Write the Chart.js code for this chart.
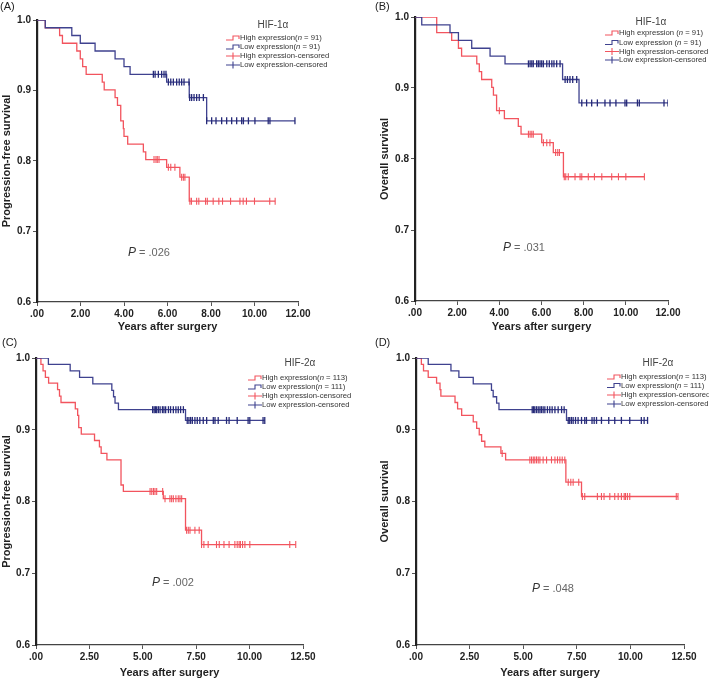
<!DOCTYPE html>
<html lang="en">
<head>
<meta charset="UTF-8" />
<title>HIF-1α / HIF-2α survival</title>
<script src="https://cdn.jsdelivr.net/npm/chart.js@4"></script>
<style>
  body { margin: 0; background: #fff; }
  #wrap { position: relative; width: 709px; height: 681px; overflow: hidden; background: #fff; }
  #wrap canvas { position: absolute; }
</style>
</head>
<body>
<div id="wrap">
  <canvas id="chartA"></canvas>
  <canvas id="chartB"></canvas>
  <canvas id="chartC"></canvas>
  <canvas id="chartD"></canvas>
</div>

<script>
// ---- (A) progression-free survival, HIF-1a ----
const aHighT = [0.38, 1.04, 1.17, 1.83, 1.99, 2.10, 2.26, 3.00, 3.09, 3.59, 3.70, 3.85, 3.97, 4.00, 4.17, 4.89, 5.00, 5.96, 6.57, 7.00];
const aHighS = [0.989, 0.978, 0.967, 0.956, 0.945, 0.934, 0.923, 0.912, 0.901, 0.890, 0.879, 0.857, 0.846, 0.835, 0.824, 0.813, 0.802, 0.791, 0.777, 0.743];
const aHighCens = [5.38, 5.47, 5.53, 5.61, 6.04, 6.15, 6.34, 6.65, 6.73, 6.80, 7.03, 7.10, 7.34, 7.44, 7.75, 7.83, 8.10, 8.36, 8.53, 8.90, 9.33, 9.48, 9.63, 10.00, 10.70, 10.95];
const aLowT = [0.38, 1.60, 1.99, 2.67, 3.59, 4.00, 4.28, 5.96, 7.00, 7.80];
const aLowS = [0.989, 0.978, 0.967, 0.956, 0.945, 0.934, 0.923, 0.912, 0.890, 0.857];
const aLowCens = [5.35, 5.43, 5.58, 5.73, 5.84, 5.93, 6.04, 6.15, 6.27, 6.42, 6.54, 6.65, 6.76, 6.99, 7.02, 7.11, 7.22, 7.34, 7.46, 7.65,
  7.80, 8.03, 8.23, 8.49, 8.72, 8.95, 9.18, 9.41, 9.49, 9.72, 10.02, 10.63, 10.71, 11.86];

// ---- (B) overall survival, HIF-1a ----
const bHighT = [1.03, 1.74, 2.06, 2.21, 2.93, 3.05, 3.16, 3.64, 3.72, 3.87, 4.24, 4.90, 5.03, 6.01, 6.56, 7.04];
const bHighS = [0.978, 0.967, 0.956, 0.945, 0.934, 0.923, 0.912, 0.901, 0.890, 0.868, 0.857, 0.846, 0.835, 0.823, 0.809, 0.775];
const bHighCens = [4.00, 5.38, 5.46, 5.54, 5.61, 6.09, 6.25, 6.40, 6.67, 6.77, 6.85, 7.08, 7.15, 7.27, 7.59, 7.83, 7.91, 8.22, 8.51, 8.86, 9.33, 9.65, 10.00, 10.88];
const bLowT = [0.32, 1.66, 2.06, 2.69, 3.56, 4.27, 7.00, 7.78];
const bLowS = [0.989, 0.978, 0.967, 0.956, 0.945, 0.934, 0.912, 0.879];
const bLowCens = [5.38, 5.46, 5.54, 5.61, 5.77, 5.85, 5.93, 6.01, 6.09, 6.25, 6.37, 6.49, 6.59, 6.72, 6.88, 7.12, 7.23, 7.35, 7.48, 7.67,
  7.91, 8.14, 8.38, 8.65, 9.01, 9.25, 9.53, 9.96, 10.04, 10.55, 10.64, 11.81, 12.00];

// ---- (C) progression-free survival, HIF-2a ----
const cHighT = [0.23, 0.33, 0.44, 0.59, 1.01, 1.10, 1.17, 1.84, 1.95, 2.00, 2.12, 2.74, 2.97, 3.05, 3.32, 3.98, 4.09, 5.96, 7.00, 7.75];
const cHighS = [0.991, 0.982, 0.973, 0.965, 0.956, 0.947, 0.938, 0.929, 0.920, 0.903, 0.894, 0.885, 0.876, 0.867, 0.858, 0.823, 0.814, 0.804, 0.760, 0.740];
const cHighCens = [5.34, 5.42, 5.50, 5.57, 5.65, 5.93, 6.04, 6.27, 6.35, 6.43, 6.55, 6.66, 6.74, 6.82, 7.05, 7.13, 7.21, 7.44, 7.64,
  7.75, 7.86, 8.06, 8.45, 8.58, 8.80, 9.04, 9.31, 9.42, 9.51, 9.57, 9.67, 9.78, 10.01, 11.88, 12.16];
const cLowT = [0.58, 1.60, 2.04, 2.66, 3.55, 3.63, 3.70, 3.86, 7.00];
const cLowS = [0.991, 0.982, 0.973, 0.964, 0.955, 0.946, 0.937, 0.928, 0.913];
const cLowCens = [5.46, 5.53, 5.59, 5.65, 5.73, 5.81, 5.92, 5.99, 6.07, 6.20, 6.30, 6.43, 6.55, 6.66, 6.77, 6.90,
  7.08, 7.16, 7.24, 7.32, 7.44, 7.55, 7.67, 7.83, 7.99, 8.30, 8.38, 8.53, 8.92, 9.04, 9.42, 9.93, 10.01, 10.63, 10.71];

// ---- (D) overall survival, HIF-2a ----
const dHighT = [0.25, 0.35, 0.57, 0.96, 1.12, 1.16, 1.82, 1.94, 2.13, 2.67, 2.83, 2.95, 3.06, 3.21, 3.96, 4.18, 6.99, 7.72];
const dHighS = [0.991, 0.982, 0.973, 0.965, 0.956, 0.947, 0.938, 0.929, 0.920, 0.911, 0.902, 0.893, 0.884, 0.876, 0.867, 0.858, 0.827, 0.807];
const dHighCens = [4.02, 5.31, 5.39, 5.47, 5.54, 5.62, 5.70, 5.78, 5.93, 6.09, 6.32, 6.48, 6.60, 6.71, 6.82, 6.94, 7.10, 7.22, 7.33, 7.59,
  7.76, 7.87, 8.46, 8.65, 8.77, 9.04, 9.27, 9.43, 9.58, 9.71, 9.77, 9.86, 9.97, 12.14, 12.22];
const dLowT = [0.57, 1.63, 2.00, 2.67, 3.52, 3.60, 3.76, 3.87, 7.02];
const dLowS = [0.991, 0.982, 0.973, 0.964, 0.955, 0.946, 0.937, 0.928, 0.913];
const dLowCens = [5.42, 5.48, 5.54, 5.62, 5.70, 5.78, 5.85, 5.93, 6.01, 6.13, 6.24, 6.35, 6.48, 6.63, 6.79, 6.91,
  7.10, 7.17, 7.25, 7.33, 7.44, 7.56, 7.72, 7.87, 7.95, 8.21, 8.31, 8.42, 8.65, 8.99, 9.27, 9.58, 9.97, 10.51, 10.64, 10.80];

// ---- text ----
const yTicks1 = [0.6, 0.7, 0.8, 0.9, 1.0];
const legend1 = ['High expression(*n* = 91)', 'Low expression(*n* = 91)', 'High expression-censored', 'Low expression-censored'];
const legend1b = ['High expression (*n* = 91)', 'Low expression (*n* = 91)', 'High expression-censored', 'Low expression-censored'];
const legend2 = ['High expression(*n* = 113)', 'Low expression(*n* = 111)', 'High expression-censored', 'Low expression-censored'];
const pValues = ['.026', '.031', '.002', '.048'];

const RED = '#f2545e';
const BLUE = '#3f428f';
const BLUE_DARK = '#262a78';
const FONT = '"Liberation Sans", Arial, sans-serif';

function stepPoints(times, surv, cens) {
  const pts = [{x: 0, y: 1}];
  times.forEach((t, i) => pts.push({x: t, y: surv[i]}));
  const end = Math.max(times[times.length - 1], ...cens);
  pts.push({x: end, y: surv[surv.length - 1]});
  return pts;
}

// censored marks sit on the curve at their time
function survivalAt(t, times, surv) {
  let s = 1;
  times.forEach((e, i) => { if (e <= t) s = surv[i]; });
  return s;
}
function censPoints(cens, times, surv) {
  return cens.map(t => ({x: t, y: survivalAt(t, times, surv)}));
}

function drawRuns(ctx, str, x, y, size, color) {
  // *...* = italic
  str.split('*').forEach((part, i) => {
    if (!part) return;
    ctx.font = (i % 2 ? 'italic ' : '') + size + 'px ' + FONT;
    ctx.fillStyle = color;
    ctx.fillText(part, x, y);
    x += ctx.measureText(part).width;
  });
}

const panelText = {
  id: 'panelText',
  afterDraw(chart, args, o) {
    const ctx = chart.ctx;
    ctx.save();
    ctx.textBaseline = 'middle';
    // panel letter
    ctx.textAlign = 'left';
    ctx.font = '11px ' + FONT;
    ctx.fillStyle = '#222';
    ctx.fillText(o.letter[0], o.letter[1], o.letter[2]);
    // legend
    const lg = o.legend;
    ctx.textAlign = 'center';
    ctx.font = '10px ' + FONT;
    ctx.fillStyle = '#444';
    ctx.fillText(lg.title, lg.titleX, lg.titleY);
    ctx.textAlign = 'left';
    lg.labels.forEach((lab, i) => {
      const y = lg.ys[i];
      const x0 = lg.iconX;
      ctx.lineWidth = 1.1;
      ctx.strokeStyle = i % 2 ? BLUE : RED;
      ctx.beginPath();
      if (i < 2) {
        ctx.moveTo(x0, y + 2); ctx.lineTo(x0 + 7, y + 2); ctx.lineTo(x0 + 7, y - 2);
        ctx.lineTo(x0 + 13, y - 2); ctx.lineTo(x0 + 13, y + 1);
      } else {
        ctx.moveTo(x0, y); ctx.lineTo(x0 + 14, y);
        ctx.moveTo(x0 + 7, y - 3.5); ctx.lineTo(x0 + 7, y + 3.5);
      }
      ctx.stroke();
      drawRuns(ctx, lab, x0 + 14, y, 7.7, '#333');
    });
    // p value
    drawRuns(ctx, '*P*', o.p[1], o.p[2], 12, '#333');
    ctx.font = 'italic 12px ' + FONT;
    const w = ctx.measureText('P').width;
    drawRuns(ctx, ' = ' + o.p[0], o.p[1] + w, o.p[2], 11, '#666');
    ctx.restore();
  }
};

function makePanel(id, p) {
  const canvas = document.getElementById(id);
  canvas.width = p.box.w;
  canvas.height = p.box.h;
  canvas.style.left = p.box.x + 'px';
  canvas.style.top = p.box.y + 'px';
  const L = p.area.l - p.box.x, R = p.area.r - p.box.x;
  const T = p.area.t - p.box.y, B = p.area.b - p.box.y;
  const half = 6.6;
  const yLeft = p.yTitleX - p.box.x - half;
  const yW = L - yLeft;
  const xH = (p.yTitleY - p.box.y + half) - B;
  const rel = (pt) => [pt[0], pt[1] - p.box.x, pt[2] - p.box.y];

  new Chart(canvas, {
    type: 'line',
    data: {
      datasets: [
        {data: stepPoints(p.highT, p.highS, p.highCens), borderColor: RED, borderWidth: 1.3, stepped: true, pointRadius: 0, order: 3},
        {data: stepPoints(p.lowT, p.lowS, p.lowCens), borderColor: BLUE, borderWidth: 1.3, stepped: true, pointRadius: 0, order: 2},
        {data: censPoints(p.highCens, p.highT, p.highS), showLine: false, pointStyle: 'line', rotation: 90,
          pointRadius: 3.5, borderColor: RED, borderWidth: 1.1, order: 1},
        {data: censPoints(p.lowCens, p.lowT, p.lowS), showLine: false, pointStyle: 'line', rotation: 90,
          pointRadius: 3.5, borderColor: BLUE_DARK, borderWidth: 1.3, order: 0}
      ]
    },
    options: {
      responsive: false,
      animation: false,
      events: [],
      layout: {padding: {left: yLeft, right: p.box.w - R, top: T, bottom: p.box.h - B - xH}},
      plugins: {
        legend: {display: false},
        tooltip: {enabled: false},
        panelText: {
          letter: rel(p.letter),
          p: rel(p.pval),
          legend: {
            title: p.legTitle,
            titleX: p.leg.titleX - p.box.x, titleY: p.leg.titleY - p.box.y,
            iconX: p.leg.iconX - p.box.x,
            ys: p.leg.ys.map(v => v - p.box.y),
            labels: p.labels
          }
        }
      },
      scales: {
        x: {
          type: 'linear', min: 0, max: p.xMax,
          afterFit: s => { s.height = xH; },
          border: {color: '#444', width: 1.3},
          grid: {drawOnChartArea: false, tickLength: 4, color: '#555'},
          ticks: {stepSize: p.xStep, autoSkip: false, maxRotation: 0, padding: 2, color: '#222',
            font: {family: FONT, size: 10, weight: 'bold'},
            callback: v => v.toFixed(2).replace(/^0/, '')},
          title: {display: true, text: 'Years after surgery', color: '#222', padding: 0,
            font: {family: FONT, size: 11, weight: 'bold'}}
        },
        y: {
          type: 'linear', min: 0.6, max: 1.0,
          afterFit: s => { s.width = yW; },
          afterBuildTicks: s => { s.ticks = yTicks1.map(v => ({value: v})); },
          border: {color: '#222', width: 2.2},
          grid: {drawOnChartArea: false, tickLength: 4, color: '#555'},
          ticks: {padding: 2, color: '#222', font: {family: FONT, size: 10, weight: 'bold'},
            callback: v => v.toFixed(1)},
          title: {display: true, text: p.yTitle, color: '#222', padding: 0,
            font: {family: FONT, size: 11, weight: 'bold'}}
        }
      }
    },
    plugins: [panelText]
  });
}

makePanel('chartA', {
  box: {x: 0, y: 0, w: 355, h: 340}, area: {l: 37, r: 298, t: 20, b: 302},
  yTitleX: 6.5, yTitleY: 327, xMax: 12, xStep: 2, yTitle: 'Progression-free survival',
  highT: aHighT, highS: aHighS, highCens: aHighCens, lowT: aLowT, lowS: aLowS, lowCens: aLowCens,
  letter: ['(A)', 0, 7], pval: [pValues[0], 128, 253],
  legTitle: 'HIF-1α', labels: legend1, leg: {titleX: 273, titleY: 25, iconX: 226, ys: [38, 47, 56, 65]}
});
makePanel('chartB', {
  box: {x: 355, y: 0, w: 354, h: 340}, area: {l: 415, r: 668, t: 17, b: 301},
  yTitleX: 385, yTitleY: 327, xMax: 12, xStep: 2, yTitle: 'Overall survival',
  highT: bHighT, highS: bHighS, highCens: bHighCens, lowT: bLowT, lowS: bLowS, lowCens: bLowCens,
  letter: ['(B)', 375, 7], pval: [pValues[1], 503, 248],
  legTitle: 'HIF-1α', labels: legend1b, leg: {titleX: 651, titleY: 22, iconX: 605, ys: [33, 42.5, 51.5, 60]}
});
makePanel('chartC', {
  box: {x: 0, y: 334, w: 355, h: 347}, area: {l: 36, r: 303, t: 358, b: 645},
  yTitleX: 6.5, yTitleY: 673, xMax: 12.5, xStep: 2.5, yTitle: 'Progression-free survival',
  highT: cHighT, highS: cHighS, highCens: cHighCens, lowT: cLowT, lowS: cLowS, lowCens: cLowCens,
  letter: ['(C)', 2, 343], pval: [pValues[2], 152, 583],
  legTitle: 'HIF-2α', labels: legend2, leg: {titleX: 300, titleY: 363, iconX: 248, ys: [378, 387, 396, 405]}
});
makePanel('chartD', {
  box: {x: 355, y: 334, w: 354, h: 347}, area: {l: 416, r: 684, t: 358, b: 645},
  yTitleX: 385, yTitleY: 673, xMax: 12.5, xStep: 2.5, yTitle: 'Overall survival',
  highT: dHighT, highS: dHighS, highCens: dHighCens, lowT: dLowT, lowS: dLowS, lowCens: dLowCens,
  letter: ['(D)', 375, 343], pval: [pValues[3], 532, 589],
  legTitle: 'HIF-2α', labels: legend2, leg: {titleX: 658, titleY: 363, iconX: 607, ys: [377, 385.5, 395, 404]}
});
</script>
</body>
</html>
